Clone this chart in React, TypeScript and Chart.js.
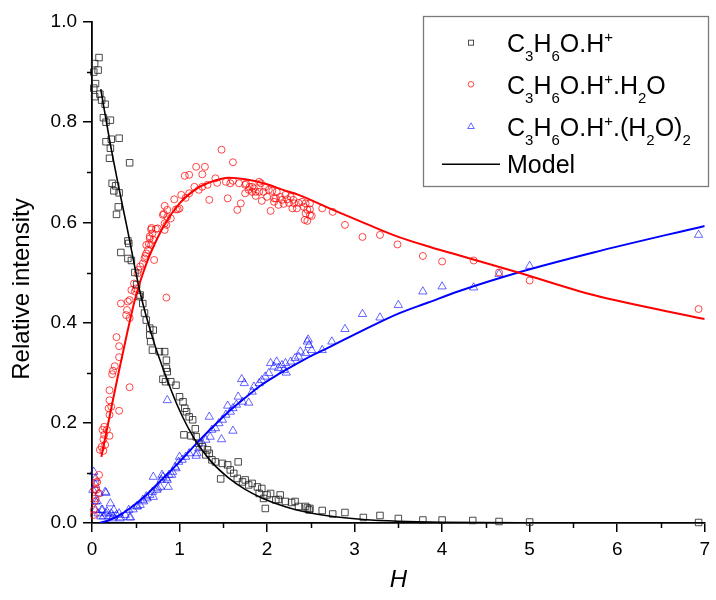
import React, { useEffect, useRef } from 'react';
import { Chart, registerables } from 'chart.js';

Chart.register(...registerables);

// ---------- data ----------
const xMajorTicks = [0, 1, 2, 3, 4, 5, 6, 7];
const xMinorTicks = [0.5, 1.5, 2.5, 3.5, 4.5, 5.5, 6.5];
const yMajorTicks = [0, 0.2, 0.4, 0.6, 0.8, 1.0];
const yMinorTicks = [0.1, 0.3, 0.5, 0.7, 0.9];

const xTitle = 'H';
const yTitle = 'Relative intensity';

// C3H6O.H+ (measured)
const protonated: number[][] = [
  [0.02, 0.90], [0.02, 0.868], [0.03, 0.851], [0.03, 0.917], [0.04, 0.877], [0.07, 0.904], [0.08, 0.929],
  [0.09, 0.856], [0.11, 0.844], [0.13, 0.809], [0.15, 0.836], [0.16, 0.80], [0.16, 0.761], [0.20, 0.728],
  [0.21, 0.804], [0.21, 0.748], [0.22, 0.766], [0.23, 0.678], [0.25, 0.663], [0.27, 0.673], [0.28, 0.616],
  [0.30, 0.631], [0.31, 0.768], [0.31, 0.659], [0.33, 0.540], [0.41, 0.563], [0.42, 0.558], [0.41, 0.528],
  [0.43, 0.719], [0.45, 0.524], [0.49, 0.50], [0.51, 0.476], [0.54, 0.452], [0.55, 0.455], [0.58, 0.438],
  [0.60, 0.419], [0.62, 0.405], [0.66, 0.389], [0.70, 0.385], [0.66, 0.375], [0.67, 0.362], [0.69, 0.345],
  [0.77, 0.342], [0.83, 0.342], [0.85, 0.325], [0.85, 0.309], [0.86, 0.302], [0.81, 0.287], [0.84, 0.282],
  [0.90, 0.282], [0.96, 0.275], [1.00, 0.252], [1.04, 0.242], [1.06, 0.229], [1.08, 0.222], [1.11, 0.212],
  [1.15, 0.206], [1.18, 0.188], [1.05, 0.176], [1.13, 0.174], [1.19, 0.172], [1.22, 0.159], [1.26, 0.152],
  [1.32, 0.146], [1.34, 0.139], [1.30, 0.136], [1.37, 0.126], [1.41, 0.122], [1.49, 0.119], [1.55, 0.116],
  [1.67, 0.122], [1.58, 0.106], [1.62, 0.099], [1.47, 0.088], [1.66, 0.089], [1.72, 0.082], [1.75, 0.086],
  [1.79, 0.076], [1.83, 0.079], [1.89, 0.072], [1.94, 0.069], [1.91, 0.059], [1.96, 0.049], [2.00, 0.056],
  [2.04, 0.059], [2.10, 0.046], [2.13, 0.047], [2.15, 0.056], [1.98, 0.029], [2.21, 0.043], [2.28, 0.041],
  [2.32, 0.043], [2.36, 0.033], [2.44, 0.033], [2.49, 0.029], [2.48, 0.026], [2.46, 0.030], [2.63, 0.025],
  [2.75, 0.018], [2.89, 0.021], [3.10, 0.011], [3.29, 0.015], [3.50, 0.009], [3.78, 0.006], [4.00, 0.006],
  [4.35, 0.005], [4.65, 0.003], [5.00, 0.002], [6.93, 0.001],
];

// C3H6O.H+.H2O (measured)
const monohydrate: number[][] = [
  [0.02, 0.016], [0.02, 0.026], [0.03, 0.043], [0.04, 0.049], [0.03, 0.066], [0.05, 0.066], [0.04, 0.081],
  [0.06, 0.082], [0.08, 0.059], [0.08, 0.096], [0.09, 0.146], [0.11, 0.152], [0.13, 0.144], [0.12, 0.186],
  [0.14, 0.192], [0.14, 0.176], [0.13, 0.167], [0.15, 0.156], [0.17, 0.186], [0.19, 0.229], [0.20, 0.174],
  [0.20, 0.216], [0.20, 0.245], [0.20, 0.265], [0.22, 0.232], [0.23, 0.297], [0.24, 0.304], [0.26, 0.313],
  [0.28, 0.371], [0.31, 0.353], [0.31, 0.331], [0.31, 0.224], [0.33, 0.438], [0.39, 0.415], [0.40, 0.425],
  [0.41, 0.442], [0.43, 0.409], [0.43, 0.445], [0.43, 0.271], [0.45, 0.465], [0.48, 0.478], [0.49, 0.462],
  [0.50, 0.468], [0.52, 0.498], [0.53, 0.505], [0.55, 0.512], [0.58, 0.518], [0.60, 0.528], [0.61, 0.533],
  [0.62, 0.538], [0.62, 0.555], [0.64, 0.545], [0.65, 0.557], [0.66, 0.568], [0.66, 0.572], [0.675, 0.555],
  [0.675, 0.586], [0.68, 0.589], [0.69, 0.578], [0.70, 0.565], [0.71, 0.525], [0.73, 0.587], [0.75, 0.588],
  [0.81, 0.615], [0.82, 0.617], [0.83, 0.598], [0.83, 0.585], [0.83, 0.633], [0.85, 0.595], [0.85, 0.45],
  [0.86, 0.611], [0.86, 0.625], [0.90, 0.608], [0.94, 0.646], [0.96, 0.626], [0.98, 0.626], [1.00, 0.628],
  [1.02, 0.655], [1.06, 0.693], [1.07, 0.649], [1.11, 0.695], [1.11, 0.658], [1.17, 0.671], [1.19, 0.711],
  [1.22, 0.665], [1.26, 0.696], [1.26, 0.671], [1.29, 0.711], [1.32, 0.675], [1.34, 0.645], [1.41, 0.688],
  [1.43, 0.679], [1.48, 0.745], [1.53, 0.681], [1.55, 0.648], [1.58, 0.678], [1.61, 0.72], [1.61, 0.683],
  [1.66, 0.625], [1.68, 0.678], [1.70, 0.638], [1.75, 0.675], [1.75, 0.658], [1.76, 0.677], [1.79, 0.665],
  [1.80, 0.671], [1.83, 0.671], [1.83, 0.661], [1.85, 0.668], [1.87, 0.661], [1.87, 0.653], [1.91, 0.681],
  [1.91, 0.661], [1.93, 0.678], [1.94, 0.643], [1.96, 0.661], [1.98, 0.671], [2.00, 0.651], [2.02, 0.665],
  [2.04, 0.623], [2.06, 0.663], [2.08, 0.648], [2.08, 0.641], [2.10, 0.648], [2.11, 0.661], [2.13, 0.635],
  [2.15, 0.651], [2.17, 0.645], [2.19, 0.637], [2.21, 0.655], [2.23, 0.646], [2.25, 0.639], [2.27, 0.651],
  [2.29, 0.628], [2.30, 0.645], [2.31, 0.638], [2.34, 0.628], [2.36, 0.639], [2.40, 0.641], [2.42, 0.631],
  [2.43, 0.605], [2.44, 0.638], [2.44, 0.618], [2.46, 0.625], [2.46, 0.603], [2.49, 0.638], [2.49, 0.626],
  [2.49, 0.615], [2.51, 0.613], [2.63, 0.628], [2.75, 0.621], [2.89, 0.595], [3.09, 0.571], [3.29, 0.575],
  [3.49, 0.556], [3.78, 0.533], [4.00, 0.522], [4.36, 0.524], [4.65, 0.50], [5.00, 0.484], [6.93, 0.427],
];

// C3H6O.H+.(H2O)2 (measured)
const dihydrate: number[][] = [
  [0.01, 0.066], [0.02, 0.102], [0.04, 0.089], [0.04, 0.076], [0.04, 0.043], [0.06, 0.043], [0.04, 0.026],
  [0.07, 0.019], [0.08, 0.059], [0.10, 0.013], [0.11, 0.026], [0.12, 0.026], [0.13, 0.013], [0.15, 0.062],
  [0.16, 0.060], [0.16, 0.019], [0.17, 0.023], [0.19, 0.013], [0.21, 0.039], [0.22, 0.019], [0.23, 0.009],
  [0.24, 0.013], [0.25, 0.026], [0.28, 0.016], [0.31, 0.019], [0.32, 0.009], [0.33, 0.011], [0.38, 0.016],
  [0.42, 0.026], [0.43, 0.011], [0.44, 0.011], [0.47, 0.027], [0.51, 0.033], [0.52, 0.033], [0.55, 0.036],
  [0.58, 0.046], [0.59, 0.043], [0.62, 0.053], [0.63, 0.049], [0.66, 0.056], [0.69, 0.062], [0.70, 0.052],
  [0.70, 0.092], [0.74, 0.066], [0.75, 0.069], [0.86, 0.245], [0.78, 0.072], [0.79, 0.086], [0.80, 0.096],
  [0.81, 0.092], [0.85, 0.089], [0.86, 0.086], [0.87, 0.072], [0.88, 0.096], [0.91, 0.096], [0.92, 0.102],
  [0.95, 0.112], [0.96, 0.109], [0.99, 0.122], [1.00, 0.132], [1.03, 0.126], [1.07, 0.132], [1.11, 0.139],
  [1.19, 0.134], [1.20, 0.139], [1.22, 0.149], [1.26, 0.159], [1.30, 0.166], [1.34, 0.212], [1.35, 0.172],
  [1.37, 0.186], [1.41, 0.189], [1.45, 0.199], [1.48, 0.167], [1.49, 0.206], [1.53, 0.216], [1.55, 0.234],
  [1.58, 0.222], [1.61, 0.184], [1.61, 0.229], [1.65, 0.236], [1.67, 0.252], [1.71, 0.287], [1.72, 0.242],
  [1.74, 0.279], [1.79, 0.240], [1.83, 0.262], [1.85, 0.272], [1.91, 0.279], [1.94, 0.285], [1.98, 0.292],
  [2.02, 0.299], [2.04, 0.319], [2.08, 0.312], [2.11, 0.322], [2.13, 0.309], [2.17, 0.315], [2.19, 0.305],
  [2.21, 0.319], [2.22, 0.300], [2.27, 0.322], [2.32, 0.329], [2.36, 0.332], [2.38, 0.342], [2.44, 0.339],
  [2.46, 0.362], [2.48, 0.355], [2.51, 0.345], [2.47, 0.366], [2.63, 0.345], [2.74, 0.362], [2.89, 0.387],
  [3.09, 0.417], [3.29, 0.410], [3.50, 0.435], [3.78, 0.462], [4.00, 0.472], [4.36, 0.470], [4.65, 0.497],
  [5.00, 0.513], [6.93, 0.575],
];

// Model curves
const modelProtonated: number[][] = [
  [0.10, 0.866], [0.20, 0.765], [0.30, 0.675], [0.40, 0.59], [0.55, 0.46], [0.70, 0.365], [0.85, 0.29],
  [1.00, 0.225], [1.17, 0.168], [1.35, 0.125], [1.56, 0.09], [1.75, 0.067], [1.94, 0.05], [2.20, 0.033],
  [2.50, 0.02], [2.80, 0.012], [3.10, 0.007], [3.50, 0.0035], [4.00, 0.0015], [5.00, 0.0003], [6.00, 0.0001],
  [7.00, 0.0],
];
const modelMonohydrate: number[][] = [
  [0.107, 0.132], [0.20, 0.212], [0.30, 0.297], [0.40, 0.378], [0.50, 0.452], [0.62, 0.517], [0.81, 0.59],
  [1.00, 0.638], [1.20, 0.668], [1.40, 0.683], [1.56, 0.689], [1.75, 0.686], [1.98, 0.677], [2.20, 0.664],
  [2.36, 0.655], [2.74, 0.626], [3.12, 0.598], [3.50, 0.571], [3.88, 0.55], [4.18, 0.535], [4.87, 0.50],
  [5.73, 0.455], [7.00, 0.407],
];
const modelDihydrate: number[][] = [
  [0.09, 0.0], [0.20, 0.006], [0.30, 0.014], [0.43, 0.029], [0.62, 0.056], [0.81, 0.089], [1.00, 0.122],
  [1.19, 0.158], [1.37, 0.19], [1.56, 0.222], [1.75, 0.25], [1.94, 0.276], [2.13, 0.297], [2.32, 0.316],
  [2.51, 0.334], [2.70, 0.35], [3.10, 0.385], [3.50, 0.418], [3.84, 0.44], [4.18, 0.462], [4.87, 0.50],
  [5.73, 0.54], [7.00, 0.593],
];

type Seg = [string, 'n' | 'sub' | 'sup'];
const legendLabels: Seg[][] = [
  [['C', 'n'], ['3', 'sub'], ['H', 'n'], ['6', 'sub'], ['O.H', 'n'], ['+', 'sup']],
  [['C', 'n'], ['3', 'sub'], ['H', 'n'], ['6', 'sub'], ['O.H', 'n'], ['+', 'sup'], ['.H', 'n'], ['2', 'sub'], ['O', 'n']],
  [['C', 'n'], ['3', 'sub'], ['H', 'n'], ['6', 'sub'], ['O.H', 'n'], ['+', 'sup'], ['.(H', 'n'], ['2', 'sub'], ['O)', 'n'], ['2', 'sub']],
  [['Model', 'n']],
];

// ---------- styles ----------
const FONT = '"Liberation Sans", Arial, Helvetica, sans-serif';
const BLACK_PT = 'rgba(30,30,30,0.8)';
const RED_PT = 'rgba(255,0,0,0.72)';
const BLUE_PT = 'rgba(0,0,255,0.6)';

const toXY = (arr: number[][]) => arr.map(([x, y]) => ({ x, y }));

const decorPlugin = {
  id: 'decor',
  afterDraw(chart: any) {
    const ctx: CanvasRenderingContext2D = chart.ctx;
    const xs = chart.scales.x;
    const ys = chart.scales.y;
    ctx.save();
    // minor ticks
    ctx.strokeStyle = '#000';
    ctx.lineWidth = 1.5;
    for (const v of xMinorTicks) {
      const px = Math.round(xs.getPixelForValue(v)) + 0.5;
      ctx.beginPath();
      ctx.moveTo(px, ys.bottom);
      ctx.lineTo(px, ys.bottom + 5);
      ctx.stroke();
    }
    for (const v of yMinorTicks) {
      const py = Math.round(ys.getPixelForValue(v)) + 0.5;
      ctx.beginPath();
      ctx.moveTo(xs.left, py);
      ctx.lineTo(xs.left - 5, py);
      ctx.stroke();
    }

    // axis titles
    ctx.fillStyle = '#000';
    ctx.textAlign = 'center';
    ctx.textBaseline = 'middle';
    ctx.font = `italic 24px ${FONT}`;
    ctx.fillText(xTitle, (xs.left + xs.right) / 2, 580);
    ctx.save();
    ctx.translate(22, 289);
    ctx.rotate(-Math.PI / 2);
    ctx.font = `24px ${FONT}`;
    ctx.fillText(yTitle, 0, 0);
    ctx.restore();

    // legend box
    ctx.fillStyle = '#fff';
    ctx.fillRect(423, 16, 286, 171);
    ctx.strokeStyle = '#7a7a7a';
    ctx.lineWidth = 1.3;
    ctx.strokeRect(423.5, 16.5, 285, 170);

    const baselines = [51.7, 94.3, 136, 173.3];
    const markerY = [42.7, 84.3, 126, 164.3];
    const mx = 471;
    ctx.lineWidth = 1;
    // square
    ctx.strokeStyle = BLACK_PT;
    ctx.strokeRect(mx - 2.5, markerY[0] - 2.5, 5, 5);
    // circle
    ctx.strokeStyle = RED_PT;
    ctx.beginPath();
    ctx.arc(mx, markerY[1], 2.8, 0, Math.PI * 2);
    ctx.stroke();
    // triangle
    ctx.strokeStyle = BLUE_PT;
    ctx.beginPath();
    ctx.moveTo(mx, markerY[2] - 3.2);
    ctx.lineTo(mx + 3.3, markerY[2] + 2.5);
    ctx.lineTo(mx - 3.3, markerY[2] + 2.5);
    ctx.closePath();
    ctx.stroke();
    // model line
    ctx.strokeStyle = '#000';
    ctx.lineWidth = 1.5;
    ctx.beginPath();
    ctx.moveTo(442, markerY[3]);
    ctx.lineTo(500, markerY[3]);
    ctx.stroke();

    // legend text
    ctx.fillStyle = '#000';
    ctx.textAlign = 'left';
    ctx.textBaseline = 'alphabetic';
    legendLabels.forEach((segs, i) => {
      let cx = 507;
      for (const [t, k] of segs) {
        const size = k === 'n' ? 25 : 15;
        ctx.font = `${size}px ${FONT}`;
        const dy = k === 'sub' ? 9 : k === 'sup' ? -10 : 0;
        ctx.fillText(t, cx, baselines[i] + dy);
        cx += ctx.measureText(t).width;
      }
    });
    ctx.restore();
  },
};

export default function App() {
  const ref = useRef<HTMLCanvasElement | null>(null);

  useEffect(() => {
    if (!ref.current) return;
    const chart = new Chart(ref.current, {
      type: 'scatter',
      data: {
        datasets: [
          {
            label: 'Model C3H6O.H+',
            data: toXY(modelProtonated),
            showLine: true,
            borderColor: '#000',
            borderWidth: 1.6,
            pointRadius: 0,
            cubicInterpolationMode: 'monotone',
            order: 0,
          } as any,
          {
            label: 'Model C3H6O.H+.H2O',
            data: toXY(modelMonohydrate),
            showLine: true,
            borderColor: '#ff0000',
            borderWidth: 2,
            pointRadius: 0,
            cubicInterpolationMode: 'monotone',
            order: 0,
          } as any,
          {
            label: 'Model C3H6O.H+.(H2O)2',
            data: toXY(modelDihydrate),
            showLine: true,
            borderColor: '#0000ff',
            borderWidth: 2,
            pointRadius: 0,
            cubicInterpolationMode: 'monotone',
            order: 0,
          } as any,
          {
            label: 'C3H6O.H+',
            data: toXY(protonated),
            pointStyle: 'rect',
            pointRadius: 4.6,
            pointBorderWidth: 1,
            pointBorderColor: BLACK_PT,
            pointBackgroundColor: 'rgba(0,0,0,0)',
            clip: false,
            order: 1,
          } as any,
          {
            label: 'C3H6O.H+.H2O',
            data: toXY(monohydrate),
            pointStyle: 'circle',
            pointRadius: 3.5,
            pointBorderWidth: 1,
            pointBorderColor: RED_PT,
            pointBackgroundColor: 'rgba(0,0,0,0)',
            clip: false,
            order: 1,
          } as any,
          {
            label: 'C3H6O.H+.(H2O)2',
            data: toXY(dihydrate),
            pointStyle: 'triangle',
            pointRadius: 4.8,
            pointBorderWidth: 1,
            pointBorderColor: BLUE_PT,
            pointBackgroundColor: 'rgba(0,0,0,0)',
            clip: false,
            order: 1,
          } as any,
        ],
      },
      options: {
        responsive: false,
        animation: false,
        devicePixelRatio: 1,
        layout: { padding: { left: 0, right: 8, top: 22, bottom: 0 } },
        plugins: { legend: { display: false }, tooltip: { enabled: false } },
        scales: {
          x: {
            type: 'linear',
            min: 0,
            max: 7,
            afterFit: (s: any) => { s.height = 77; },
            afterBuildTicks: (s: any) => { s.ticks = xMajorTicks.map((v) => ({ value: v })); },
            border: { display: true, color: '#000', width: 1.8 },
            grid: { drawOnChartArea: false, drawTicks: true, tickLength: 9, color: '#000', lineWidth: 1.5 },
            ticks: {
              font: { family: FONT, size: 19 },
              color: '#000',
              padding: 6,
              maxRotation: 0,
              autoSkip: false,
              callback: (v: any) => String(Math.round(Number(v))),
            },
          },
          y: {
            type: 'linear',
            min: 0,
            max: 1,
            afterFit: (s: any) => { s.width = 92; },
            afterBuildTicks: (s: any) => { s.ticks = yMajorTicks.map((v) => ({ value: v })); },
            border: { display: true, color: '#000', width: 1.8 },
            grid: { drawOnChartArea: false, drawTicks: true, tickLength: 9, color: '#000', lineWidth: 1.5 },
            ticks: {
              font: { family: FONT, size: 19 },
              color: '#000',
              padding: 6,
              autoSkip: false,
              callback: (v: any) => Number(v).toFixed(1),
            },
          },
        },
      },
      plugins: [decorPlugin],
    } as any);
    return () => chart.destroy();
  }, []);

  return (
    <div style={{ position: 'absolute', left: 0, top: 0, width: 716, height: 600, background: '#fff' }}>
      <canvas ref={ref} width={716} height={600} style={{ display: 'block' }} />
    </div>
  );
}
